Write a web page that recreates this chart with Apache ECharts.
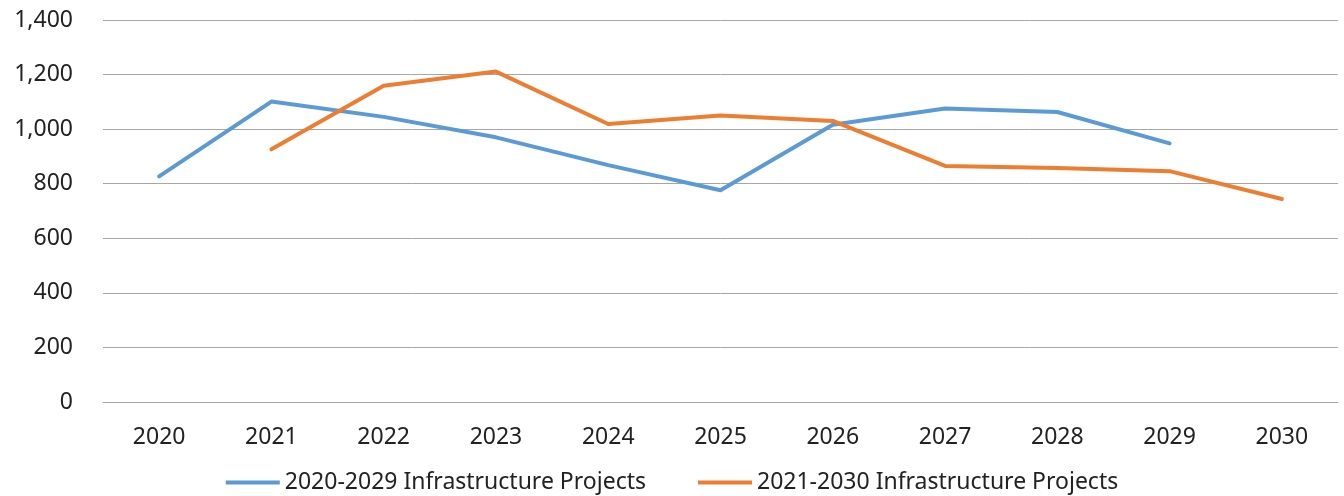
<!DOCTYPE html>
<html>
<head>
<meta charset="utf-8">
<script src="https://cdn.jsdelivr.net/npm/echarts@6/dist/echarts.min.js"></script>
<style>
  html, body { margin: 0; padding: 0; background: #fff; }
  #chart { width: 1344px; height: 496px; }
</style>
</head>
<body>
<div id="chart"></div>
<script>
const years = ["2020", "2021", "2022", "2023", "2024", "2025", "2026", "2027", "2028", "2029", "2030"];
const projects2020 = [827, 1101, 1045, 970, 868, 776, 1016, 1076, 1063, 948, null];
const projects2021 = [null, 926, 1159, 1211, 1019, 1050, 1030, 865, 858, 846, 744];
const yTicks = [0, 200, 400, 600, 800, 1000, 1200, 1400];

const font = "'Noto Sans', 'Liberation Sans', sans-serif";
const chart = echarts.init(document.getElementById("chart"));

chart.setOption({
  animation: false,
  grid: { left: 103, right: 6, top: 20, bottom: 94 },
  legend: {
    top: 466,
    left: "center",
    itemWidth: 54,
    itemHeight: 4,
    itemGap: 52,
    icon: "rect",
    textStyle: { fontFamily: font, fontSize: 23, color: "#222" },
    data: ["2020-2029 Infrastructure Projects", "2021-2030 Infrastructure Projects"],
  },
  xAxis: {
    type: "category",
    data: years,
    boundaryGap: true,
    axisLine: { lineStyle: { color: "#a6a6a6", width: 1 } },
    axisTick: { show: false },
    axisLabel: { fontFamily: font, fontSize: 23, color: "#222", margin: 24 },
  },
  yAxis: {
    type: "value",
    min: yTicks[0],
    max: yTicks[yTicks.length - 1],
    interval: 200,
    axisLine: { show: false },
    axisTick: { show: false },
    splitLine: { lineStyle: { color: "#a6a6a6", width: 1 } },
    axisLabel: {
      fontFamily: font,
      fontSize: 23,
      color: "#222",
      margin: 30,
      formatter: (v) => v.toLocaleString("en-US"),
    },
  },
  series: [
    {
      name: "2020-2029 Infrastructure Projects",
      type: "line",
      data: projects2020,
      symbol: "none",
      connectNulls: false,
      lineStyle: { color: "#5b9bd5", width: 4, cap: "round", join: "round" },
      itemStyle: { color: "#5b9bd5" },
    },
    {
      name: "2021-2030 Infrastructure Projects",
      type: "line",
      data: projects2021,
      symbol: "none",
      connectNulls: false,
      lineStyle: { color: "#ed7d31", width: 4, cap: "round", join: "round" },
      itemStyle: { color: "#ed7d31" },
    },
  ],
});
</script>
</body>
</html>
